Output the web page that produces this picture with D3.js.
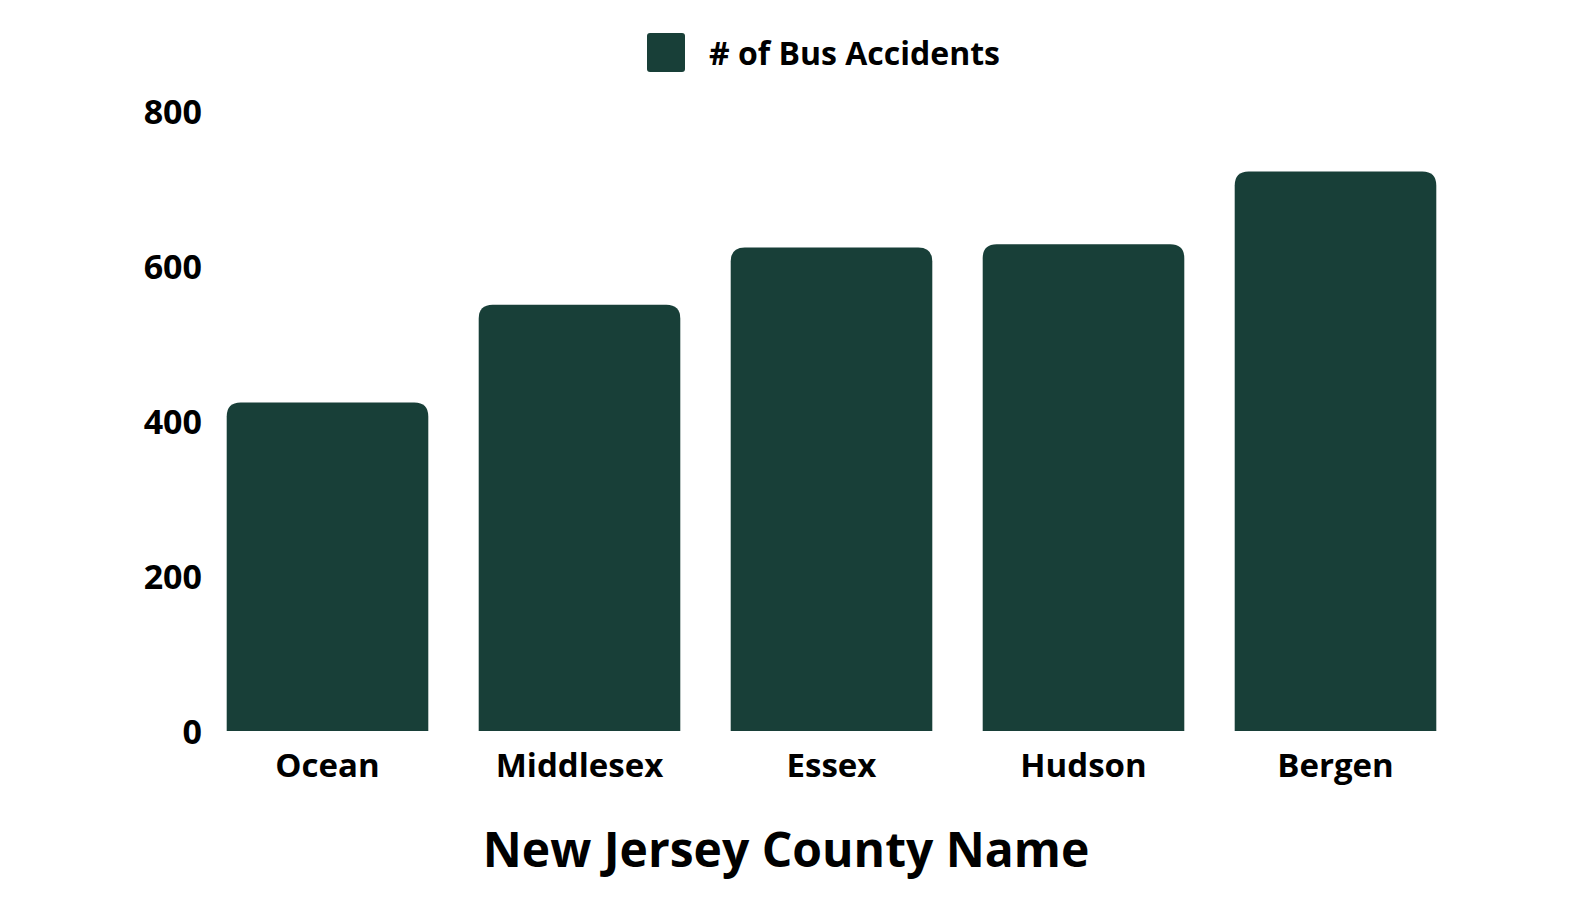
<!DOCTYPE html>
<html>
<head>
<meta charset="utf-8">
<script src="https://cdn.jsdelivr.net/npm/d3@7"></script>
<style>
  html, body { margin: 0; padding: 0; background: #fff; }
  svg text { font-family: "Open Sans", sans-serif; font-weight: 700; fill: #000; }
</style>
</head>
<body>
<svg id="chart" width="1572" height="904"></svg>
<script>
  // data
  var counties = ["Ocean", "Middlesex", "Essex", "Hudson", "Bergen"];
  var accidents = [424, 550, 624, 628, 722];
  var yTicks = [0, 200, 400, 600, 800];
  var seriesName = "# of Bus Accidents";
  var xTitle = "New Jersey County Name";

  var barColor = "#183f38";
  var svg = d3.select("#chart");

  var x = d3.scaleBand()
      .domain(counties)
      .range([201.5, 1461.5])
      .paddingInner(0.2)
      .paddingOuter(0.1);

  var y = d3.scaleLinear()
      .domain([0, 800])
      .range([731, 111]);

  // bars with rounded top corners
  function topRounded(x0, y0, w, h, r) {
    r = Math.min(r, w / 2, h);
    return "M" + x0 + "," + (y0 + h) +
      "V" + (y0 + r) +
      "Q" + x0 + "," + y0 + " " + (x0 + r) + "," + y0 +
      "H" + (x0 + w - r) +
      "Q" + (x0 + w) + "," + y0 + " " + (x0 + w) + "," + (y0 + r) +
      "V" + (y0 + h) + "Z";
  }

  svg.append("g").selectAll("path")
      .data(counties)
    .enter().append("path")
      .attr("fill", barColor)
      .attr("d", function(d, i) {
        return topRounded(x(d), y(accidents[i]), x.bandwidth(), y(0) - y(accidents[i]), 14);
      });

  // y axis (labels only)
  var yAxis = d3.axisLeft(y).tickValues(yTicks).tickSize(0).tickPadding(0);
  var gy = svg.append("g").attr("transform", "translate(202,0)").call(yAxis);
  gy.select(".domain").remove();
  gy.selectAll("text")
      .attr("dy", "0.36em")
      .style("font-size", "34px")
      .style("font-family", "'Open Sans', sans-serif")
      .style("font-weight", 700)
      .attr("fill", "#000");

  // x axis (labels only)
  var xAxis = d3.axisBottom(x).tickSize(0).tickPadding(0);
  var gx = svg.append("g").attr("transform", "translate(0,731)").call(xAxis);
  gx.select(".domain").remove();
  gx.selectAll("text")
      .attr("dy", null)
      .attr("y", 46)
      .style("font-size", "33px")
      .style("font-family", "'Open Sans', sans-serif")
      .style("font-weight", 700)
      .attr("fill", "#000");

  // axis title
  svg.append("text")
      .attr("x", 786)
      .attr("y", 867)
      .attr("text-anchor", "middle")
      .style("font-size", "48px")
      .text(xTitle);

  // legend
  var legend = svg.append("g");
  legend.append("rect")
      .attr("x", 647).attr("y", 33)
      .attr("width", 38).attr("height", 39)
      .attr("rx", 3)
      .attr("fill", barColor);
  legend.append("text")
      .attr("x", 709)
      .attr("y", 65)
      .style("font-size", "32px")
      .text(seriesName);
</script>
</body>
</html>
